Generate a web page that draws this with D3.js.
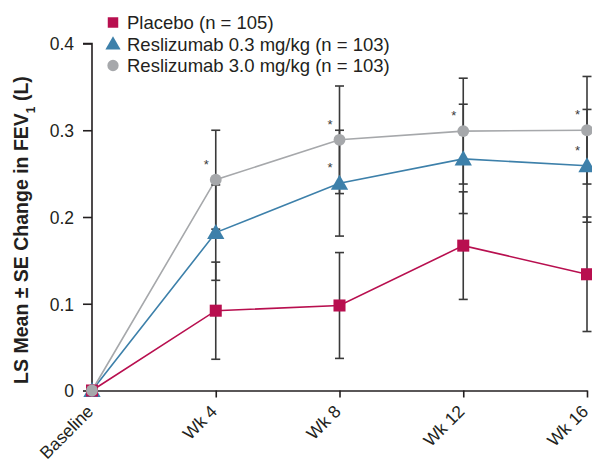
<!DOCTYPE html>
<html>
<head>
<meta charset="utf-8">
<script src="https://cdn.jsdelivr.net/npm/d3@7/dist/d3.min.js"></script>
<style>
  html, body { margin: 0; padding: 0; background: #fff; }
  svg { display: block; font-family: "Liberation Sans", Arial, Helvetica, sans-serif; }
</style>
</head>
<body>
<svg id="chart" width="592" height="463"></svg>
<script>
const categories = ["Baseline", "Wk 4", "Wk 8", "Wk 12", "Wk 16"];
const yTicks = [0, 0.1, 0.2, 0.3, 0.4];
const yTickLabels = ["0", "0.1", "0.2", "0.3", "0.4"];

const seriesNames = ["Placebo (n = 105)", "Reslizumab 0.3 mg/kg (n = 103)", "Reslizumab 3.0 mg/kg (n = 103)"];
const placeboMean = [0, 0.092, 0.098, 0.167, 0.134];
const placeboSE   = [0, 0.056, 0.061, 0.062, 0.066];
const low03Mean   = [0, 0.182, 0.239, 0.267, 0.259];
const low03SE     = [0, 0.055, 0.061, 0.063, 0.065];
const high30Mean  = [0, 0.243, 0.289, 0.299, 0.300];
const high30SE    = [0, 0.057, 0.062, 0.061, 0.062];
// significance markers: [series index, category index]
const asterisks = [[2, 1], [2, 2], [1, 2], [2, 3], [2, 4], [1, 4]];

const colors = ["#b80f4f", "#3d80aa", "#a6a8ab"];
const shapes = [d3.symbolSquare, d3.symbolTriangle, d3.symbolCircle];
const shapeSizes = [145, 130, 110];

const series = [
  { name: seriesNames[0], mean: placeboMean, se: placeboSE },
  { name: seriesNames[1], mean: low03Mean, se: low03SE },
  { name: seriesNames[2], mean: high30Mean, se: high30SE }
];

const svg = d3.select("#chart");
const x = d3.scalePoint().domain(categories).range([92, 587]);
const y = d3.scaleLinear().domain([0, 0.4]).range([390.5, 43.5]);

const axisColor = "#231f20";

// Y axis
const yAxis = d3.axisLeft(y).tickValues(yTicks).tickFormat((d, i) => yTickLabels[i]).tickSize(9).tickPadding(9);
const gy = svg.append("g").attr("transform", "translate(92,0)").call(yAxis);
gy.select(".domain").attr("stroke", axisColor).attr("stroke-width", 1.6).attr("d", `M-9,${y(0.4)}H0V${y(0)}`);
gy.selectAll(".tick line").attr("stroke", axisColor).attr("stroke-width", 1.6);
gy.selectAll(".tick text").attr("fill", axisColor).style("font-size", "17.5px").attr("dy", "0.36em");

// X axis
const xAxis = d3.axisBottom(x).tickSize(7).tickSizeOuter(0);
const gx = svg.append("g").attr("transform", `translate(0,${y(0)})`).call(xAxis);
gx.select(".domain").attr("stroke", axisColor).attr("stroke-width", 1.6);
gx.selectAll(".tick line").attr("stroke", axisColor).attr("stroke-width", 1.6);
gx.selectAll(".tick").filter(d => d === "Baseline").select("line").remove();
gx.selectAll(".tick text")
  .attr("fill", axisColor)
  .style("font-size", "17.5px")
  .attr("text-anchor", "end")
  .attr("dy", "0")
  .attr("transform", "translate(2,22) rotate(-45)")
  .attr("x", 0).attr("y", 0);

// Y title
const title = svg.append("text")
  .attr("transform", `translate(28,${230}) rotate(-90)`)
  .attr("text-anchor", "middle")
  .attr("fill", axisColor)
  .style("font-size", "19.5px")
  .style("font-weight", "bold");
title.append("tspan").text("LS Mean \u00b1 SE Change in FEV");
title.append("tspan").text("1").attr("baseline-shift", "sub").style("font-size", "12px");
title.append("tspan").text(" (L)");

const line = d3.line().x((d, i) => x(categories[i])).y(d => y(d));

// Lines
series.forEach((s, si) => {
  svg.append("path")
    .datum(s.mean)
    .attr("d", line)
    .attr("fill", "none")
    .attr("stroke", colors[si])
    .attr("stroke-width", 1.6);
});

// Error bars
const capW = 4.5;
series.forEach((s, si) => {
  s.mean.forEach((m, i) => {
    if (i === 0) return;
    const cx = x(categories[i]);
    const y1 = y(m + s.se[i]), y2 = y(m - s.se[i]);
    const g = svg.append("g").attr("stroke", "#3a3a3a").attr("stroke-width", 1.6);
    g.append("line").attr("x1", cx).attr("x2", cx).attr("y1", y1).attr("y2", y2);
    g.append("line").attr("x1", cx - capW).attr("x2", cx + capW).attr("y1", y1).attr("y2", y1);
    g.append("line").attr("x1", cx - capW).attr("x2", cx + capW).attr("y1", y2).attr("y2", y2);
  });
});

// Markers (placebo drawn last at baseline)
[1, 2, 0].forEach(si => {
  const s = series[si];
  s.mean.forEach((m, i) => {
    svg.append("path")
      .attr("d", d3.symbol().type(shapes[si]).size(shapeSizes[si])())
      .attr("transform", `translate(${x(categories[i])},${y(m) + (si === 1 ? 1.5 : 0)})`)
      .attr("fill", colors[si]);
  });
});
// gray circle on top at baseline
svg.append("path")
  .attr("d", d3.symbol().type(shapes[2]).size(shapeSizes[2])())
  .attr("transform", `translate(${x(categories[0])},${y(high30Mean[0])})`)
  .attr("fill", colors[2]);

// Asterisks
asterisks.forEach(([si, ci]) => {
  svg.append("text")
    .attr("x", x(categories[ci]) - 9.5)
    .attr("y", y(series[si].mean[ci]) - 11)
    .attr("text-anchor", "middle")
    .attr("fill", "#3a3a3a")
    .style("font-size", "13px")
    .text("*");
});

// Legend
const legend = svg.append("g");
seriesNames.forEach((name, i) => {
  const ly = 22.5 + i * 21.5;
  legend.append("path")
    .attr("d", d3.symbol().type(shapes[i]).size(i === 0 ? 110 : 100)())
    .attr("transform", `translate(113,${ly + (i === 1 ? 1 : 0)})`)
    .attr("fill", colors[i]);
  legend.append("text")
    .attr("x", 127)
    .attr("y", ly + 6.5)
    .attr("fill", axisColor)
    .style("font-size", "18.5px")
    .text(name);
});
</script>
</body>
</html>
